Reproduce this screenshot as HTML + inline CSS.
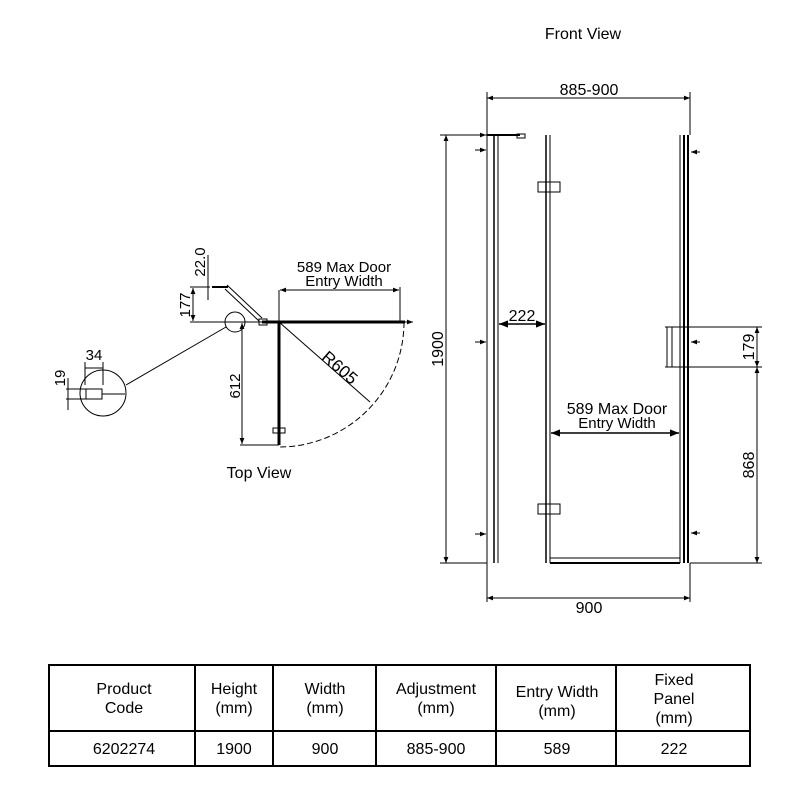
<!DOCTYPE html>
<html><head><meta charset="utf-8"><style>
html,body{margin:0;padding:0;background:#fff;}
svg{display:block;font-family:"Liberation Sans",Arial,sans-serif;}
</style></head><body>
<svg width="800" height="800" viewBox="0 0 800 800" xmlns="http://www.w3.org/2000/svg">
<defs>
<marker id="a" viewBox="0 0 10 10" refX="10" refY="5" markerWidth="9" markerHeight="6" orient="auto-start-reverse"><path d="M0,1 L10,5 L0,9 z" fill="#000"/></marker>
</defs>
<g fill="#000" font-size="16" text-anchor="middle">
<text x="583" y="39">Front View</text>
<text x="259" y="478">Top View</text>
</g>
<!-- FRONT VIEW -->
<g stroke="#000" fill="none" stroke-width="1">
<line x1="487" y1="92" x2="487" y2="135"/><line x1="690" y1="92" x2="690" y2="135"/>
<line x1="487" y1="98" x2="690" y2="98" marker-start="url(#a)" marker-end="url(#a)"/>
<line x1="487" y1="563" x2="487" y2="602"/><line x1="690" y1="563" x2="690" y2="602"/>
<line x1="487" y1="598" x2="690" y2="598" marker-start="url(#a)" marker-end="url(#a)"/>
<line x1="440" y1="135" x2="487" y2="135"/><line x1="440" y1="563" x2="487" y2="563"/>
<line x1="446" y1="135" x2="446" y2="563" marker-start="url(#a)" marker-end="url(#a)"/>
<line x1="487" y1="135" x2="487" y2="563"/>
<line x1="494" y1="135" x2="494" y2="563" stroke-width="1.5"/>
<line x1="498" y1="135" x2="498" y2="563"/>
<line x1="487" y1="135" x2="520" y2="135" stroke-width="2"/>
<rect x="517" y="134" width="8" height="4"/>
<line x1="546" y1="135" x2="546" y2="563" stroke-width="1.5"/>
<line x1="550" y1="135" x2="550" y2="563"/>
<line x1="550" y1="563" x2="680" y2="563" stroke-width="2"/>
<line x1="550" y1="558" x2="680" y2="558"/>
<line x1="680" y1="135" x2="680" y2="563"/>
<line x1="684" y1="135" x2="684" y2="563" stroke-width="2"/>
<line x1="688" y1="135" x2="688" y2="563" stroke-width="2"/>
<rect x="538" y="182" width="22" height="10"/>
<rect x="538" y="504" width="22" height="10"/>
<rect x="667" y="327" width="5" height="40"/>
<line x1="475" y1="135" x2="486" y2="135" marker-end="url(#a)"/>
<line x1="475" y1="150" x2="486" y2="150" marker-end="url(#a)"/>
<line x1="475" y1="342" x2="486" y2="342" marker-end="url(#a)"/>
<line x1="475" y1="534" x2="486" y2="534" marker-end="url(#a)"/>
<line x1="700" y1="152" x2="691" y2="152" marker-end="url(#a)"/>
<line x1="700" y1="342" x2="691" y2="342" marker-end="url(#a)"/>
<line x1="700" y1="533" x2="691" y2="533" marker-end="url(#a)"/>
<line x1="499" y1="324" x2="545" y2="324" marker-start="url(#a)" marker-end="url(#a)" stroke-width="1.5"/>
<line x1="551" y1="433" x2="679" y2="433" marker-start="url(#a)" marker-end="url(#a)" stroke-width="1.5"/>
<line x1="665" y1="327" x2="762" y2="327"/>
<line x1="665" y1="367" x2="762" y2="367"/>
<line x1="690" y1="563" x2="762" y2="563"/>
<line x1="757" y1="327" x2="757" y2="367" marker-start="url(#a)" marker-end="url(#a)"/>
<line x1="757" y1="367" x2="757" y2="563" marker-start="url(#a)" marker-end="url(#a)"/>
</g>
<g fill="#000" font-size="16" text-anchor="middle">
<text x="589" y="95">885-900</text>
<text x="589" y="613">900</text>
<text x="522" y="321">222</text>
<text x="617" y="414">589 Max Door</text>
<text x="617" y="428" font-size="15">Entry Width</text>
<text transform="translate(443,349) rotate(-90)">1900</text>
<text transform="translate(754,347) rotate(-90)">179</text>
<text transform="translate(754,465) rotate(-90)">868</text>
</g>
<!-- TOP VIEW -->
<g stroke="#000" fill="none" stroke-width="1">
<line x1="262" y1="322" x2="405" y2="322" stroke-width="3"/>
<line x1="405" y1="322" x2="413" y2="322" marker-end="url(#a)"/>
<line x1="279" y1="322" x2="279" y2="445" stroke-width="3"/>
<line x1="222" y1="322" x2="262" y2="322"/>
<rect x="259" y="319" width="8" height="6"/>
<line x1="227" y1="285" x2="262" y2="318" stroke-width="1"/>
<line x1="225" y1="289" x2="259" y2="321" stroke-width="1"/>
<line x1="212" y1="287" x2="228" y2="287" stroke-width="2"/>
<rect x="273" y="428" width="12" height="5"/>
<circle cx="235" cy="322" r="10"/>
<circle cx="103" cy="393" r="23"/>
<line x1="226" y1="327" x2="126" y2="385"/>
<rect x="86" y="389" width="16" height="10"/>
<line x1="102" y1="394" x2="125" y2="394"/>
<path d="M404,322 A125,125 0 0 1 279,447" stroke-dasharray="6,3"/>
<line x1="279" y1="322" x2="370" y2="402"/>
<line x1="279" y1="290" x2="279" y2="322"/>
<line x1="400" y1="287" x2="400" y2="322"/>
<line x1="280" y1="290" x2="399" y2="290" marker-start="url(#a)" marker-end="url(#a)"/>
<line x1="190" y1="287" x2="210" y2="287"/>
<line x1="190" y1="322" x2="222" y2="322"/>
<line x1="193" y1="288" x2="193" y2="321" marker-start="url(#a)" marker-end="url(#a)"/>
<line x1="208" y1="255" x2="208" y2="300"/>
<line x1="240" y1="445" x2="279" y2="445"/>
<line x1="242" y1="323" x2="242" y2="444" marker-start="url(#a)" marker-end="url(#a)"/>
<line x1="85" y1="362" x2="85" y2="385"/><line x1="103" y1="362" x2="103" y2="385"/>
<line x1="85" y1="368" x2="103" y2="368"/>
<line x1="66" y1="389" x2="86" y2="389"/><line x1="66" y1="399" x2="86" y2="399"/>
<line x1="68" y1="378" x2="68" y2="410"/>
</g>
<g fill="#000" font-size="15" text-anchor="middle">
<text x="344" y="272">589 Max Door</text>
<text x="344" y="286">Entry Width</text>
<text x="94" y="360">34</text>
<text transform="translate(65,378) rotate(-90)">19</text>
<text transform="translate(190,305) rotate(-90)">177</text>
<text transform="translate(205,262) rotate(-90)">22.0</text>
<text transform="translate(240,386) rotate(-90)">612</text>
<text transform="translate(336,372) rotate(41)" font-size="17">R605</text>
</g>
<!-- TABLE -->
<g stroke="#000" fill="none" stroke-width="2">
<rect x="49" y="665" width="701" height="101"/>
<line x1="49" y1="731" x2="750" y2="731"/>
<line x1="195" y1="665" x2="195" y2="766"/>
<line x1="273" y1="665" x2="273" y2="766"/>
<line x1="376" y1="665" x2="376" y2="766"/>
<line x1="496" y1="665" x2="496" y2="766"/>
<line x1="616" y1="665" x2="616" y2="766"/>
</g>
<g fill="#000" font-size="16" text-anchor="middle">
<text x="124" y="694">Product</text><text x="124" y="713">Code</text>
<text x="234" y="694">Height</text><text x="234" y="713">(mm)</text>
<text x="325" y="694">Width</text><text x="325" y="713">(mm)</text>
<text x="436" y="694">Adjustment</text><text x="436" y="713">(mm)</text>
<text x="557" y="697">Entry Width</text><text x="557" y="716">(mm)</text>
<text x="674" y="685">Fixed</text><text x="674" y="704">Panel</text><text x="674" y="723">(mm)</text>
<text x="124" y="754">6202274</text>
<text x="234" y="754">1900</text>
<text x="325" y="754">900</text>
<text x="436" y="754">885-900</text>
<text x="557" y="754">589</text>
<text x="674" y="754">222</text>
</g>
</svg>
</body></html>
